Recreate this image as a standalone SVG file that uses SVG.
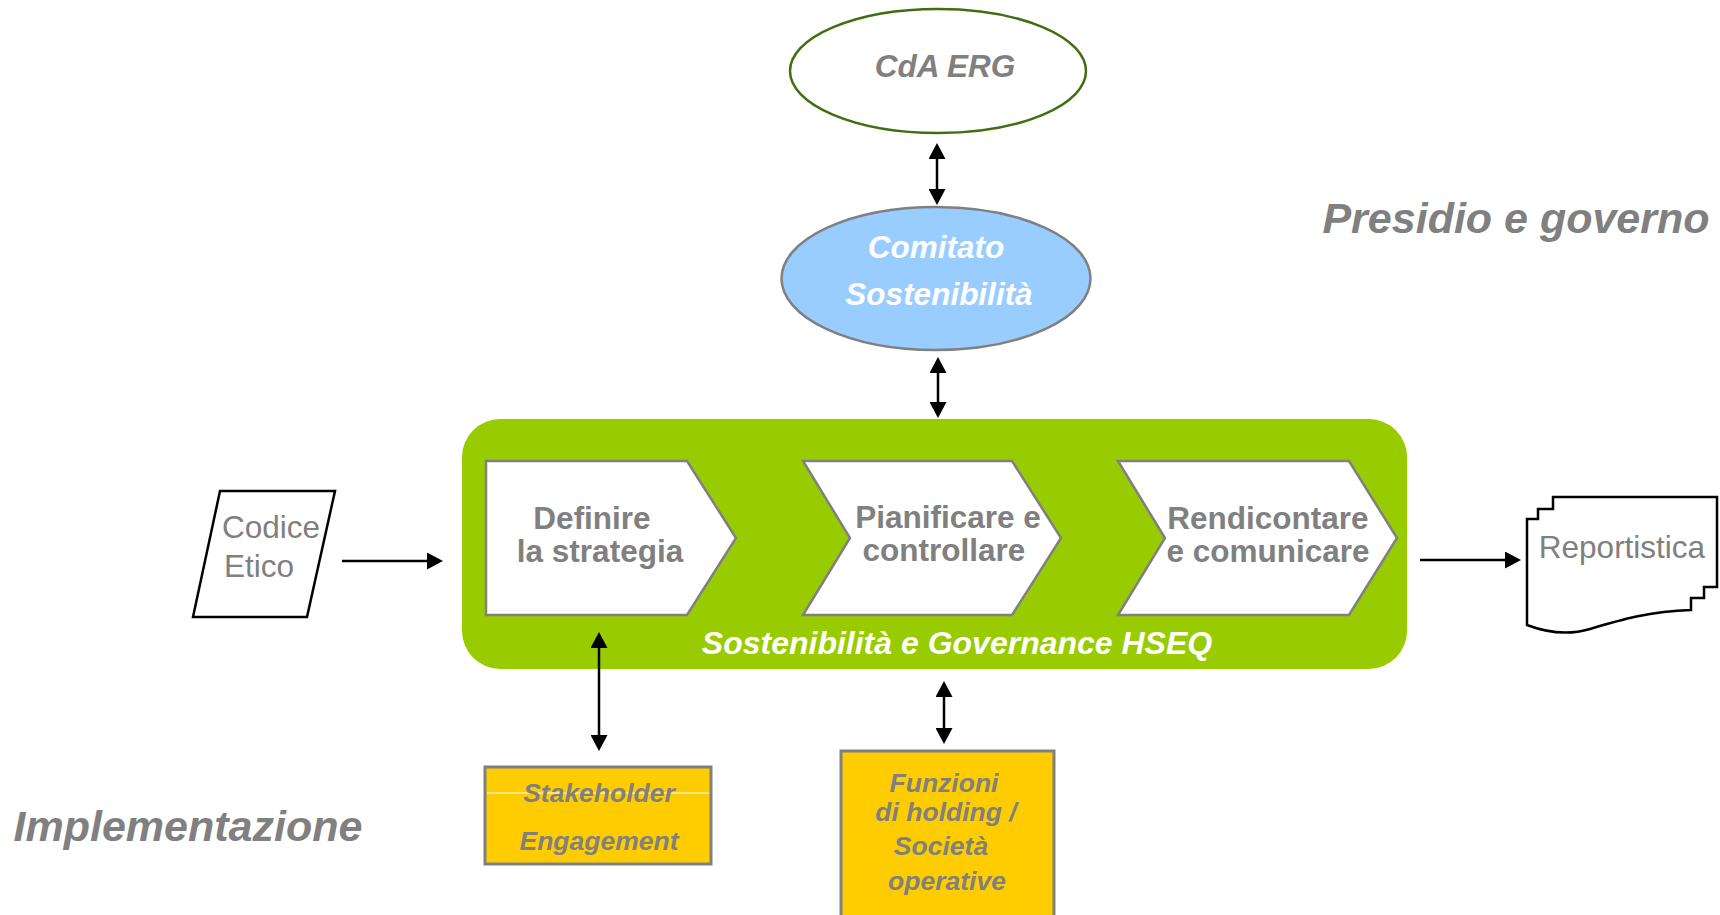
<svg xmlns="http://www.w3.org/2000/svg" width="1720" height="915" viewBox="0 0 1720 915">
<style>
text{font-family:"Liberation Sans",Arial,sans-serif;}
.g{fill:#808080;}
.w{fill:#ffffff;}
.bi{font-weight:bold;font-style:italic;}
.b{font-weight:bold;}
.chev{fill:#ffffff;stroke:#808080;stroke-width:2.5;stroke-linejoin:miter;}
.conn{stroke:#000000;stroke-width:2.5;fill:none;}
.box{fill:#FFCC00;stroke:#808080;stroke-width:3;}
</style>
<defs>
<marker id="ah" markerUnits="userSpaceOnUse" markerWidth="17" markerHeight="17" refX="8" refY="8.5" orient="auto-start-reverse" viewBox="0 0 16 17">
<path d="M0,0 L16,8.5 L0,17 z" fill="#000000"/>
</marker>
</defs>
<rect width="1720" height="915" fill="#ffffff"/>

<text class="g bi" x="1516" y="233" font-size="43" text-anchor="middle">Presidio e governo</text>
<text class="g bi" x="188" y="841" font-size="43" text-anchor="middle">Implementazione</text>

<g id="cda">
<ellipse cx="938" cy="71" rx="148" ry="62" fill="#ffffff" stroke="#3F6F10" stroke-width="2.5"/>
<text class="g bi" x="945" y="77" font-size="31.5" text-anchor="middle">CdA ERG</text>
</g>

<g id="comitato">
<ellipse cx="936" cy="278.5" rx="154.5" ry="71.5" fill="#99CCFF" stroke="#808080" stroke-width="2.5"/>
<text class="w bi" x="936" y="258" font-size="31.5" text-anchor="middle">Comitato</text>
<text class="w bi" x="939" y="305" font-size="31.5" text-anchor="middle">Sostenibilità</text>
</g>

<g id="sostenibilita-hseq">
<rect x="462" y="419" width="945" height="250" rx="38" ry="38" fill="#99CC00"/>
<text class="w bi" x="957" y="654" font-size="32" text-anchor="middle">Sostenibilità e Governance HSEQ</text>
</g>

<g id="definire">
<polygon class="chev" points="486,461 687,461 736,538 687,615 486,615"/>
<text class="g b" x="592" y="529" font-size="31.5" text-anchor="middle">Definire</text>
<text class="g b" x="600" y="562" font-size="31.5" text-anchor="middle">la strategia</text>
</g>

<g id="pianificare">
<polygon class="chev" points="803,461 1012,461 1061,538 1012,615 803,615 850,538"/>
<text class="g b" x="948" y="528" font-size="31.5" text-anchor="middle">Pianificare e</text>
<text class="g b" x="944" y="561" font-size="31.5" text-anchor="middle">controllare</text>
</g>

<g id="rendicontare">
<polygon class="chev" points="1118,461 1349,461 1397,538 1349,615 1118,615 1165,538"/>
<text class="g b" x="1268" y="529" font-size="31.5" text-anchor="middle">Rendicontare</text>
<text class="g b" x="1268" y="562" font-size="31.5" text-anchor="middle">e comunicare</text>
</g>

<g id="codice-etico">
<polygon points="220,491 335,491 307,617 193,617" fill="#ffffff" stroke="#000000" stroke-width="2.5"/>
<text class="g" x="222" y="538" font-size="31.5">Codice</text>
<text class="g" x="224" y="577" font-size="31.5">Etico</text>
</g>

<g id="reportistica">
<path d="M1527,519 H1538 V509 H1553 V497 H1717 V587 H1704 V598 H1691 V610 C1650,611 1620,620 1590,629 C1570,635 1548,633 1527,625 Z" fill="#ffffff" stroke="#000000" stroke-width="2.5"/>
<text class="g" x="1622" y="558" font-size="31.5" text-anchor="middle">Reportistica</text>
</g>

<g id="stakeholder">
<rect class="box" x="485" y="767" width="226" height="97"/>
<line x1="487" y1="793" x2="709" y2="793" stroke="#ffffff" stroke-width="1"/>
<text class="g bi" x="599" y="802" font-size="26.5" text-anchor="middle">Stakeholder</text>
<text class="g bi" x="599" y="850" font-size="26.5" text-anchor="middle">Engagement</text>
</g>

<g id="funzioni">
<rect class="box" x="841" y="751" width="213" height="180"/>
<text class="g bi" x="944" y="792" font-size="26.5" text-anchor="middle">Funzioni</text>
<text class="g bi" x="946" y="821" font-size="26.5" text-anchor="middle">di holding /</text>
<text class="g bi" x="941" y="855" font-size="26.5" text-anchor="middle">Società</text>
<text class="g bi" x="947" y="890" font-size="26.5" text-anchor="middle">operative</text>
</g>

<g id="connectors">
<line class="conn" x1="937" y1="151" x2="937" y2="197" marker-start="url(#ah)" marker-end="url(#ah)"/>
<line class="conn" x1="938" y1="365" x2="938" y2="410" marker-start="url(#ah)" marker-end="url(#ah)"/>
<line class="conn" x1="599" y1="640" x2="599" y2="743" marker-start="url(#ah)" marker-end="url(#ah)"/>
<line class="conn" x1="944" y1="689" x2="944" y2="736" marker-start="url(#ah)" marker-end="url(#ah)"/>
<line class="conn" x1="342" y1="561" x2="435" y2="561" marker-end="url(#ah)"/>
<line class="conn" x1="1420" y1="560" x2="1513" y2="560" marker-end="url(#ah)"/>
</g>
</svg>
